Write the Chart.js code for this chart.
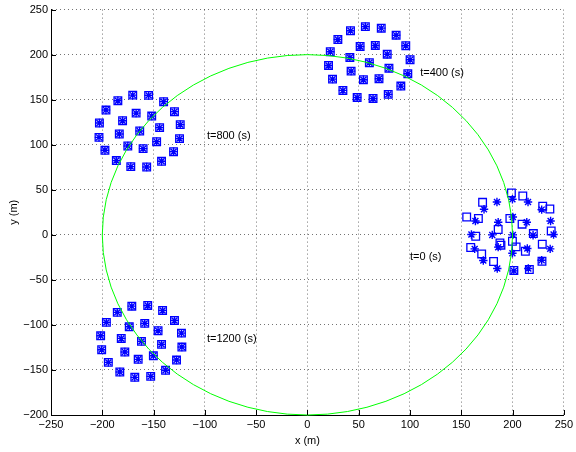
<!DOCTYPE html>
<html>
<head>
<meta charset="utf-8">
<script src="https://cdn.jsdelivr.net/npm/chart.js@4.4.0/dist/chart.umd.min.js"></script>
<style>
body { margin: 0; background: #fff; }
</style>
</head>
<body>
<canvas id="formation" width="576" height="452"></canvas>
<script>
// t=0 s : squares and stars apart
var x0Square = [198.9, 210.0, 170.8, 229.4, 236.4, 155.3, 166.7, 197.4, 209.3, 186.0, 237.7, 220.3, 164.1,
                187.7, 199.9, 229.0, 159.2, 203.5, 212.5, 169.9, 181.5, 228.7, 201.3, 216.4, 188.7];
var y0Square = [46.5, 43.1, 36.1, 31.7, 28.7, 19.8, 18.1, 18.1, 11.8, 5.9, 4.3, 1.4, -1.6,
                -9.0, -7.1, -10.4, -14.1, -13.4, -18.2, -21.2, -29.6, -29.3, -39.6, -38.5, -11.5];
var x0Star = [184.8, 199.9, 215.1, 172.2, 228.4, 163.8, 186.0, 200.3, 213.9, 237.1, 159.9, 180.2, 200.3,
              220.0, 240.0, 163.1, 186.0, 199.9, 214.4, 236.7, 171.5, 185.1, 201.3, 215.4, 228.4];
var y0Star = [36.5, 39.5, 36.5, 28.4, 28.0, 15.4, 14.0, 19.8, 14.0, 15.4, 0.3, -0.1, -0.1,
              -0.4, 0.3, -15.6, -13.7, -20.4, -15.2, -15.6, -28.5, -37.4, -40.0, -37.4, -28.2];

// t=400, 800, 1200 s : squares and stars on top of each other
var x400 = [56.5, 72.0, 42.0, 86.5, 29.7, 51.4, 66.2, 95.9, 22.3, 77.8, 41.4, 100.1, 60.4,
            20.6, 79.5, 42.6, 97.9, 24.5, 54.6, 69.8, 91.1, 34.6, 78.8, 48.5, 64.0];
var y400 = [231.1, 229.4, 226.5, 221.6, 216.8, 209.1, 210.2, 209.9, 203.2, 200.5, 196.9, 194.3, 191.0,
            188.0, 185.0, 181.7, 178.8, 172.8, 172.2, 173.3, 165.1, 160.3, 155.9, 152.5, 151.4];
var x800 = [-170.3, -154.8, -184.8, -140.2, -196.4, -129.6, -167.0, -151.8, -180.2, -202.8, -124.0, -144.1, -163.5,
            -183.4, -203.2, -124.7, -147.0, -175.1, -160.2, -197.4, -130.5, -186.3, -142.2, -172.2, -156.7];
var y800 = [155.1, 154.8, 148.9, 147.8, 138.5, 136.7, 135.1, 131.8, 126.7, 124.1, 122.3, 119.0, 115.2,
            111.9, 108.2, 106.8, 103.4, 98.6, 95.7, 93.8, 92.3, 82.4, 81.6, 75.7, 75.3];
var x1200 = [-171.2, -155.7, -141.2, -185.4, -129.6, -196.0, -158.6, -173.7, -145.6, -122.8, -201.6, -181.5, -161.8,
             -142.2, -122.4, -200.6, -178.0, -150.2, -165.0, -127.6, -194.1, -138.3, -182.9, -152.8, -168.3];
var y1200 = [-79.2, -78.4, -83.9, -86.1, -95.0, -97.2, -98.3, -102.1, -106.5, -109.1, -112.1, -115.0, -118.3,
             -121.6, -124.6, -127.6, -130.1, -134.3, -138.2, -139.0, -141.6, -150.4, -152.3, -157.1, -158.2];

// reference circle
var circleCenter = [0, 0];
var circleRadius = 200;

// annotations
var labelText = ['t=0 (s)', 't=400 (s)', 't=800 (s)', 't=1200 (s)'];
var labelX = [100, 110, -98, -98];
var labelY = [-25, 180, 110, -116];

var xMin = -250, xMax = 250, yMin = -200, yMax = 250, tickStep = 50;

function toPoints(xs, ys) {
    return xs.map(function(x, i) { return { x: x, y: ys[i] }; });
}

var squarePts = toPoints(x0Square, y0Square)
    .concat(toPoints(x400, y400), toPoints(x800, y800), toPoints(x1200, y1200));
var starPts = toPoints(x0Star, y0Star)
    .concat(toPoints(x400, y400), toPoints(x800, y800), toPoints(x1200, y1200));

var FONT = 'Liberation Sans, Arial, Helvetica, sans-serif';

var circlePlugin = {
    id: 'circle',
    afterDatasetsDraw: function(chart) {
        var xs = chart.scales.x, ys = chart.scales.y, ctx = chart.ctx;
        var cx = xs.getPixelForValue(circleCenter[0]);
        var cy = ys.getPixelForValue(circleCenter[1]);
        var rx = xs.getPixelForValue(circleCenter[0] + circleRadius) - cx;
        var ry = cy - ys.getPixelForValue(circleCenter[1] + circleRadius);
        ctx.save();
        ctx.strokeStyle = '#00ff00';
        ctx.lineWidth = 1;
        ctx.beginPath();
        ctx.ellipse(cx, cy, rx, ry, 0, 0, Math.PI * 2);
        ctx.stroke();
        ctx.restore();
    }
};

var extrasPlugin = {
    id: 'extras',
    afterDraw: function(chart) {
        var xs = chart.scales.x, ys = chart.scales.y, ctx = chart.ctx;
        var area = chart.chartArea;
        ctx.save();
        // inward ticks, matlab style
        ctx.strokeStyle = '#000';
        ctx.lineWidth = 1;
        ctx.beginPath();
        xs.ticks.forEach(function(t) {
            var px = Math.round(xs.getPixelForValue(t.value)) + 0.5;
            ctx.moveTo(px, area.bottom);
            ctx.lineTo(px, area.bottom - 5);
        });
        ys.ticks.forEach(function(t) {
            var py = Math.round(ys.getPixelForValue(t.value)) + 0.5;
            ctx.moveTo(area.left, py);
            ctx.lineTo(area.left + 5, py);
        });
        ctx.stroke();
        // text labels
        ctx.fillStyle = '#000';
        ctx.font = '11px ' + FONT;
        ctx.textAlign = 'left';
        ctx.textBaseline = 'middle';
        labelText.forEach(function(txt, i) {
            ctx.fillText(txt, xs.getPixelForValue(labelX[i]), ys.getPixelForValue(labelY[i]));
        });
        ctx.restore();
    }
};

function minusSign(v) {
    return String(v).replace('-', '\u2212');
}

new Chart(document.getElementById('formation').getContext('2d'), {
    type: 'scatter',
    data: {
        datasets: [{
            label: 'position',
            data: squarePts,
            pointStyle: 'rect',
            pointRadius: 5.4,
            pointHoverRadius: 5.4,
            borderColor: '#0000ff',
            backgroundColor: 'rgba(0,0,0,0)',
            borderWidth: 1.3
        }, {
            label: 'desired',
            data: starPts,
            pointStyle: 'star',
            pointRadius: 4.2,
            pointHoverRadius: 4.2,
            borderColor: '#0000ff',
            backgroundColor: 'rgba(0,0,0,0)',
            borderWidth: 1.4
        }]
    },
    options: {
        responsive: false,
        animation: false,
        events: [],
        layout: { padding: { top: 9, right: 9, left: 0, bottom: 0 } },
        plugins: {
            legend: { display: false },
            tooltip: { enabled: false }
        },
        scales: {
            x: {
                type: 'linear',
                min: xMin,
                max: xMax,
                ticks: {
                    stepSize: tickStep,
                    color: '#000',
                    padding: 3,
                    maxRotation: 0,
                    font: { family: FONT, size: 11 },
                    callback: minusSign
                },
                grid: {
                    color: 'rgba(0,0,0,0.55)',
                    lineWidth: 1,
                    drawTicks: false,
                    tickLength: 0
                },
                border: { display: true, color: '#000', width: 1, dash: [1, 3] },
                title: {
                    display: true,
                    text: 'x (m)',
                    color: '#000',
                    padding: { top: 2, bottom: 4 },
                    font: { family: FONT, size: 11 }
                },
                afterFit: function(scale) { scale.height = 37; }
            },
            y: {
                type: 'linear',
                min: yMin,
                max: yMax,
                ticks: {
                    stepSize: tickStep,
                    color: '#000',
                    padding: 3,
                    font: { family: FONT, size: 11 },
                    callback: minusSign
                },
                grid: {
                    color: 'rgba(0,0,0,0.55)',
                    lineWidth: 1,
                    drawTicks: false,
                    tickLength: 0
                },
                border: { display: true, color: '#000', width: 1, dash: [1, 3] },
                title: {
                    display: true,
                    text: 'y (m)',
                    color: '#000',
                    padding: { top: 7, bottom: 4 },
                    font: { family: FONT, size: 11 }
                },
                afterFit: function(scale) { scale.width = 51; }
            }
        }
    },
    plugins: [circlePlugin, extrasPlugin]
});
</script>
</body>
</html>
